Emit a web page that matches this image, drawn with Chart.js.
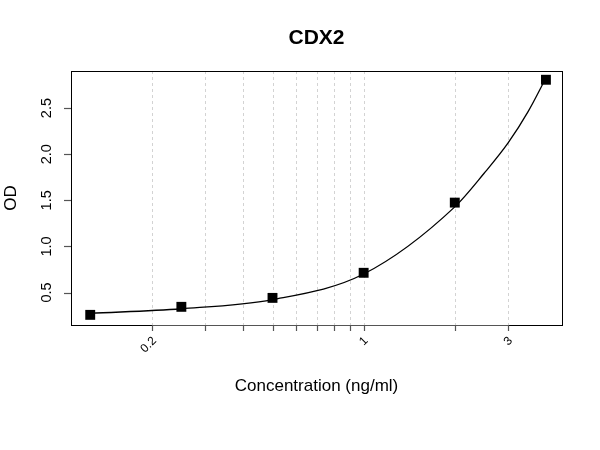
<!DOCTYPE html>
<html>
<head>
<meta charset="utf-8">
<script src="https://cdn.jsdelivr.net/npm/chart.js@4"></script>
<style>
  html, body { margin: 0; padding: 0; background: #fff; }
  #wrap { width: 600px; height: 450px; }
</style>
</head>
<body>
<div id="wrap"><canvas id="c" width="600" height="450"></canvas></div>
<script>
const concentrations = [0.125, 0.25, 0.5, 1, 2, 4];
const odValues = [0.258, 0.345, 0.442, 0.714, 1.475, 2.807];
const fitConcentrations = [0.125, 0.25, 0.5, 1, 2, 2.5, 3, 3.5, 4];
const fitValues = [0.274, 0.324, 0.424, 0.701, 1.429, 1.793, 2.122, 2.467, 2.826];
const xTicks = [0.2, 0.3, 0.4, 0.5, 0.6, 0.7, 0.8, 0.9, 1, 2, 3];
const xTickLabels = {0.2: '0.2', 1: '1', 3: '3'};
const yTicks = [0.5, 1.0, 1.5, 2.0, 2.5];
const yTickLabels = ['0.5', '1.0', '1.5', '2.0', '2.5'];

const points = concentrations.map((x, i) => ({x: x, y: odValues[i]}));
const fitPoints = fitConcentrations.map((x, i) => ({x: x, y: fitValues[i]}));

const decor = {
  id: 'decor',
  beforeDatasetsDraw(chart) {
    const ctx = chart.ctx, a = chart.chartArea, xs = chart.scales.x;
    ctx.save();
    ctx.strokeStyle = '#d3d3d3';
    ctx.lineWidth = 1;
    ctx.setLineDash([3, 3]);
    xTicks.forEach(v => {
      const px = Math.round(xs.getPixelForValue(v)) + 0.5;
      ctx.beginPath(); ctx.moveTo(px, a.top); ctx.lineTo(px, a.bottom); ctx.stroke();
    });
    ctx.restore();
  },
  afterDraw(chart) {
    const ctx = chart.ctx, a = chart.chartArea, xs = chart.scales.x, ys = chart.scales.y;
    ctx.save();
    // box
    ctx.strokeStyle = '#000'; ctx.lineWidth = 1; ctx.setLineDash([]);
    ctx.strokeRect(Math.round(a.left) + 0.5, Math.round(a.top) + 0.5, Math.round(a.right - a.left), Math.round(a.bottom - a.top));
    // x axis ticks + line
    ctx.strokeStyle = '#555'; ctx.lineWidth = 1.2;
    const x0 = xs.getPixelForValue(xTicks[0]), x1 = xs.getPixelForValue(xTicks[xTicks.length - 1]);
    ctx.beginPath(); ctx.moveTo(x0, a.bottom + 0.5); ctx.lineTo(x1, a.bottom + 0.5); ctx.stroke();
    xTicks.forEach(v => {
      const px = Math.round(xs.getPixelForValue(v)) + 0.5;
      ctx.beginPath(); ctx.moveTo(px, a.bottom); ctx.lineTo(px, a.bottom + 6); ctx.stroke();
    });
    // y axis ticks
    yTicks.forEach(v => {
      const py = Math.round(ys.getPixelForValue(v)) + 0.5;
      ctx.beginPath(); ctx.moveTo(a.left, py); ctx.lineTo(a.left - 7, py); ctx.stroke();
    });
    // x tick labels (rotated 45)
    ctx.fillStyle = '#000';
    ctx.font = '12px "Liberation Sans", Arial, sans-serif';
    ctx.textAlign = 'right'; ctx.textBaseline = 'middle';
    xTicks.forEach(v => {
      const lab = xTickLabels[v];
      if (!lab) return;
      const px = xs.getPixelForValue(v);
      ctx.save();
      ctx.translate(px + 2.5, a.bottom + 14);
      ctx.rotate(-Math.PI / 4);
      ctx.fillText(lab, 0, 0);
      ctx.restore();
    });
    // y tick labels (rotated 90)
    ctx.font = '14.5px "Liberation Sans", Arial, sans-serif';
    ctx.textAlign = 'center'; ctx.textBaseline = 'alphabetic';
    yTicks.forEach((v, i) => {
      const py = ys.getPixelForValue(v);
      ctx.save();
      ctx.translate(a.left - 20, py);
      ctx.rotate(-Math.PI / 2);
      ctx.fillText(yTickLabels[i], 0, 0);
      ctx.restore();
    });
    // title
    ctx.font = 'bold 21px "Liberation Sans", Arial, sans-serif';
    ctx.textAlign = 'center'; ctx.textBaseline = 'middle';
    ctx.fillText('CDX2', (a.left + a.right) / 2, 38);
    // x axis title
    ctx.font = '17px "Liberation Sans", Arial, sans-serif';
    ctx.fillText('Concentration (ng/ml)', (a.left + a.right) / 2, 386);
    // y axis title
    ctx.save();
    ctx.translate(11, (a.top + a.bottom) / 2);
    ctx.rotate(-Math.PI / 2);
    ctx.fillText('OD', 0, 0);
    ctx.restore();
    ctx.restore();
  }
};

new Chart(document.getElementById('c'), {
  type: 'scatter',
  data: {
    datasets: [
      {
        label: 'fit',
        data: fitPoints,
        showLine: true,
        borderColor: '#000',
        borderWidth: 1.3,
        pointRadius: 0,
        cubicInterpolationMode: 'monotone',
        fill: false,
        order: 2
      },
      {
        label: 'CDX2',
        data: points,
        showLine: false,
        pointStyle: 'rect',
        pointRadius: 7,
        backgroundColor: '#000',
        borderColor: '#000',
        borderWidth: 0,
        order: 1
      }
    ]
  },
  options: {
    responsive: false,
    animation: false,
    devicePixelRatio: 1,
    layout: { padding: { left: 71, top: 71, right: 38, bottom: 125 } },
    plugins: { legend: { display: false }, tooltip: { enabled: false }, title: { display: false } },
    scales: {
      x: { type: 'logarithmic', min: 0.108, max: 4.52, display: false },
      y: { type: 'linear', min: 0.148, max: 2.902, display: false }
    }
  },
  plugins: [decor]
});
</script>
</body>
</html>
